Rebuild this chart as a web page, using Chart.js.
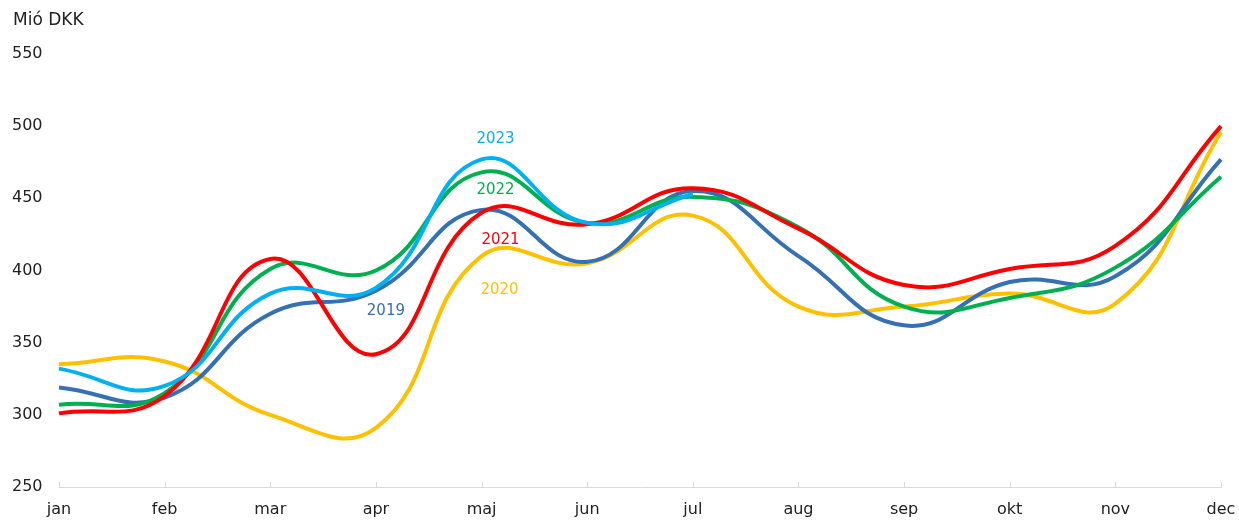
<!DOCTYPE html>
<html>
<head>
<meta charset="utf-8">
<script src="https://cdn.jsdelivr.net/npm/chart.js@4"></script>
<style>
html,body{margin:0;padding:0;background:#fff;}
#wrap{width:1239px;height:520px;position:relative;}
</style>
</head>
<body>
<div id="wrap"><canvas id="chart"></canvas></div>
<script>

/* DATA */

const months = ["jan","feb","mar","apr","maj","jun","jul","aug","sep","okt","nov","dec"];

const y2019 = [319,312,370,386,442,406,455,410,362,392,396,477];
const y2020 = [335,337,300,291,410,405,438,375,375,384,377,496];
const y2021 = [301,313,408,342,440,432,457,429,390,401,417,500];
const y2022 = [307,315,401,400,468,433,451,430,375,381,402,465];
const y2023 = [332,320,384,388,477,433,453];

const yTicks = [250,300,350,400,450,500,550];

/* series labels: month index, value, pixel shift */
const seriesLabels = [
{text:"2023",idx:4,val:491,dx:14,color:"#00B0F0"},
{text:"2022",idx:4,val:455.5,dx:14,color:"#00B050"},
{text:"2021",idx:4,val:421,dx:19,color:"#FF0000"},
{text:"2020",idx:4,val:386.5,dx:18,color:"#FFC000"},
{text:"2019",idx:3,val:372,dx:10,color:"#3570B5"}
];

const FONT = "'DejaVu Sans', Verdana, sans-serif";

const labelPlugin = {
id:"labels",
afterDatasetsDraw(chart){
const ctx = chart.ctx;
const xs = chart.scales.x, ys = chart.scales.y;
ctx.save();
// tick marks pointing up from the x axis
ctx.strokeStyle = "#d9d9d9";
ctx.lineWidth = 1;
xs.ticks.forEach((t,i)=>{
const px = Math.round(xs.getPixelForTick(i))+0.5;
ctx.beginPath();
ctx.moveTo(px, xs.top);
ctx.lineTo(px, xs.top-5);
ctx.stroke();
});
ctx.font = "15px " + FONT;
ctx.textAlign = "center";
ctx.textBaseline = "middle";
seriesLabels.forEach(l=>{
ctx.fillStyle = l.color;
ctx.fillText(l.text, xs.getPixelForValue(l.idx)+l.dx, ys.getPixelForValue(l.val));
});
ctx.fillStyle = "#222";
ctx.textAlign = "left";
ctx.font = "17px " + FONT;
ctx.fillText("Mió DKK", 13, 21);
ctx.restore();
}
};

function line(label,data,color,order){
return {label:label,data:data,borderColor:color,backgroundColor:color,
borderWidth:4,pointRadius:0,tension:0.45,fill:false,order:order};
}

new Chart(
document.getElementById("chart"),
{
type:"line",
data:{
labels:months,
datasets:[
line("2019",y2019,"#3570B5",4),
line("2020",y2020,"#FFC000",5),
line("2021",y2021,"#FF0000",2),
line("2022",y2022,"#00B050",3),
line("2023",y2023,"#00B0F0",1)
]
},
options:{
responsive:true,
maintainAspectRatio:false,
animation:false,
layout:{padding:{left:12,right:18,top:54,bottom:0}},
plugins:{legend:{display:false},tooltip:{enabled:false}},
scales:{
x:{
offset:false,
afterFit(s){ s.height = 33; },
grid:{display:false,drawTicks:false},
border:{display:true,color:"#d9d9d9"},
ticks:{color:"#222",font:{family:FONT,size:16,lineHeight:2.6},padding:2,maxRotation:0,autoSkip:false}
},
y:{
min:250,max:550,
afterBuildTicks(s){ s.ticks = yTicks.map(v=>({value:v})); },
afterFit(s){ s.width = 47; },
grid:{display:false},
border:{display:false},
ticks:{color:"#222",font:{family:FONT,size:16},crossAlign:"far",padding:0}
}
}
},
plugins:[labelPlugin]
}
);
</script>
</body>
</html>
